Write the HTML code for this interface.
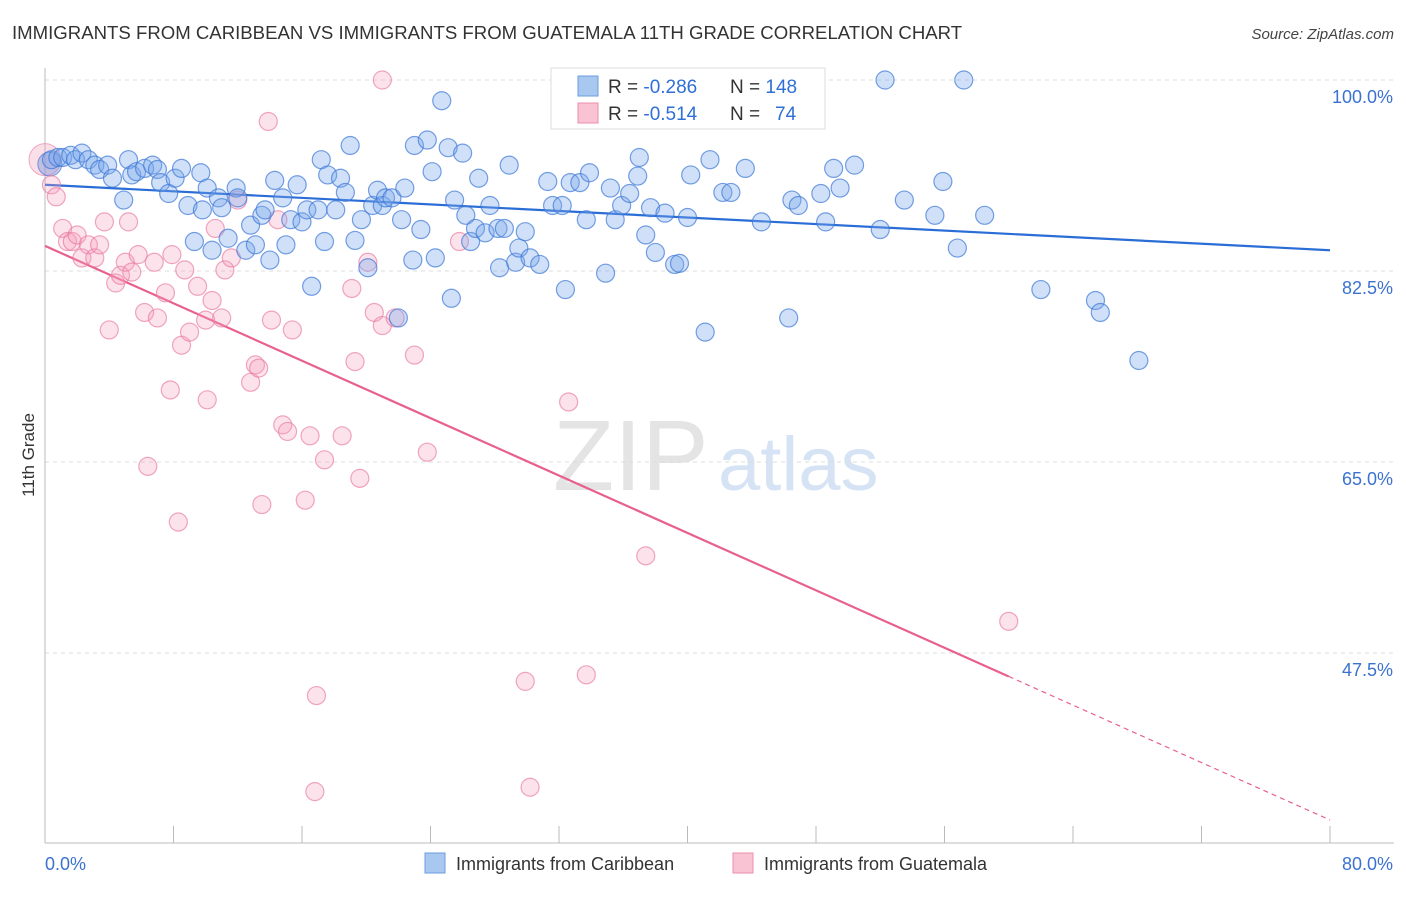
<!DOCTYPE html>
<html><head><meta charset="utf-8"><style>
body{margin:0;background:#fff;font-family:"Liberation Sans",sans-serif;}
svg text{font-family:"Liberation Sans",sans-serif;}
</style></head><body>
<svg id="chart" width="1406" height="892" xmlns="http://www.w3.org/2000/svg">
<text x="12" y="39" font-size="18.6" fill="#333">IMMIGRANTS FROM CARIBBEAN VS IMMIGRANTS FROM GUATEMALA 11TH GRADE CORRELATION CHART</text>
<text x="1394" y="39" font-size="15" fill="#444" text-anchor="end" font-style="italic">Source: ZipAtlas.com</text>
<g>
<text x="553" y="490" font-size="100" fill="#e4e4e4" font-family="Liberation Serif, serif">ZIP</text>
<text x="718" y="490" font-size="76" fill="#d5e3f5">atlas</text>
</g>
<g id="grid"></g>
<g id="axes"></g>
<g id="trends"></g>
<g id="pts"></g>
<text transform="translate(34,455) rotate(-90)" font-size="17" fill="#333" text-anchor="middle">11th Grade</text>
<g>
<rect x="551" y="68" width="274" height="61" fill="#fff" stroke="#ddd"/>
<rect x="578" y="76" width="20" height="20" fill="#a9c8f0" stroke="#6a9de0"/>
<rect x="578" y="103" width="20" height="20" fill="#f9c3d3" stroke="#ec8fae"/>
<text x="608" y="93" font-size="19" fill="#333">R = <tspan fill="#2f6fd6">-0.286</tspan></text>
<text x="730" y="93" font-size="19" fill="#333">N = <tspan fill="#2f6fd6">148</tspan></text>
<text x="608" y="120" font-size="19" fill="#333">R = <tspan fill="#2f6fd6"> -0.514</tspan></text>
<text x="730" y="120" font-size="19" fill="#333">N = </text>
<text x="775" y="120" font-size="19" fill="#2f6fd6">74</text>
</g>
<g>
<rect x="425" y="853" width="20" height="20" fill="#a9c8f0" stroke="#6a9de0"/>
<text x="456" y="870" font-size="18" fill="#333">Immigrants from Caribbean</text>
<rect x="733" y="853" width="20" height="20" fill="#f9c3d3" stroke="#ec8fae"/>
<text x="764" y="870" font-size="18" fill="#333">Immigrants from Guatemala</text>
</g>
</svg>
<script>
const yTicks=[100,82.5,65,47.5];
const yTickLabels=["100.0%","82.5%","65.0%","47.5%"];
const xTickLabels=["0.0%","80.0%"];
const blueX=[0.4,0.8,1.1,1.6,1.9,2.3,2.7,3.1,3.4,3.9,4.2,4.9,5.2,5.4,5.7,6.2,6.7,7.0,7.2,7.7,8.1,8.5,8.9,9.3,9.7,9.8,10.1,10.4,10.8,11.0,11.4,11.9,12.0,12.5,12.8,13.1,13.5,13.7,14.0,14.3,14.8,15.0,15.3,15.7,16.0,16.3,16.6,17.0,17.2,17.4,17.6,18.1,18.4,18.7,19.0,19.3,19.7,20.1,20.4,20.7,21.0,21.2,21.6,22.0,22.2,22.4,22.9,23.0,23.4,23.8,24.1,24.3,24.7,25.1,25.3,25.5,26.0,26.2,26.5,26.8,27.0,27.4,27.7,28.2,28.3,28.6,28.9,29.3,29.5,29.9,30.2,30.8,31.3,31.6,32.2,32.4,32.7,33.3,33.7,33.9,34.9,35.2,35.5,35.9,36.4,36.9,37.0,37.4,37.7,38.0,38.6,39.2,39.5,40.0,40.2,40.7,41.1,41.4,42.2,42.7,43.6,44.6,46.3,46.5,46.9,48.3,48.6,49.1,49.5,50.4,52.0,52.3,53.5,55.4,55.9,56.8,57.2,58.5,62.0,65.4,65.7,68.1];
const blueY=[92.7,92.9,92.9,93.1,92.7,93.3,92.7,92.2,91.8,92.2,91.0,89.0,92.7,91.3,91.6,91.9,92.2,91.8,90.6,89.6,91.0,91.9,88.5,85.2,91.5,88.1,90.1,84.4,89.2,88.3,85.5,90.1,89.2,84.4,86.7,84.9,87.6,88.1,83.5,90.8,89.2,84.9,87.2,90.4,87.0,88.1,81.1,88.1,92.7,85.2,91.3,88.1,91.0,89.7,94.0,85.3,87.2,82.8,88.5,89.9,88.5,89.2,89.2,78.2,87.2,90.1,83.5,94.0,86.3,94.5,91.6,83.7,98.1,93.8,80.0,89.0,93.3,87.6,85.2,86.4,91.0,86.0,88.5,86.4,82.8,86.4,92.2,83.3,84.6,86.1,83.7,83.1,90.7,88.5,88.5,80.8,90.6,90.6,87.2,91.5,82.3,90.1,87.2,88.5,89.6,91.2,92.9,85.8,88.3,84.2,87.8,83.1,83.2,87.4,91.3,96.8,76.9,92.7,89.7,89.7,91.9,87.0,78.2,89.0,88.5,89.6,87.0,91.9,90.1,92.2,86.3,100.0,89.0,87.6,90.7,84.6,100.0,87.6,80.8,79.8,78.7,74.3];
const pinkX=[0.4,0.7,1.1,1.4,1.7,2.0,2.3,2.7,3.1,3.4,3.7,4.0,4.4,4.7,5.0,5.2,5.4,5.8,6.2,6.4,6.8,7.0,7.5,7.8,7.9,8.3,8.5,8.7,9.0,9.5,10.0,10.1,10.4,10.6,11.0,11.2,11.6,12.0,12.8,13.1,13.3,13.5,13.9,14.1,14.5,14.8,15.1,15.4,16.2,16.5,16.9,16.8,17.4,18.5,19.1,19.3,19.6,20.1,20.5,21.0,21.0,21.8,23.0,23.8,25.8,29.9,30.2,32.6,33.7,36.6,37.4,60.0];
const pinkY=[90.4,89.3,86.4,85.2,85.2,85.8,83.7,84.9,83.7,84.9,87.0,77.1,81.4,82.1,83.3,87.0,82.4,84.0,78.7,64.6,83.3,78.2,80.5,71.6,84.0,59.5,75.7,82.6,76.9,81.1,78.0,70.7,79.8,86.4,78.2,82.6,83.7,89.0,72.3,73.9,73.6,61.1,96.2,78.0,87.2,68.4,67.8,77.1,61.5,67.4,43.6,34.8,65.2,67.4,80.9,74.2,63.5,83.3,78.7,100.0,77.5,78.2,74.8,65.9,85.2,44.9,35.2,70.5,45.5,97.4,56.4,50.4];
const blueTrend=[90.4,84.4];
const pinkTrend=[84.8,32.2];
const pinkSolidEnd=60;
const NS="http://www.w3.org/2000/svg";
const X0=45,X1=1330,Y100=80,PX_PER=191/17.5;
function sx(v){return X0+(X1-X0)*v/80;}
function sy(v){return Y100+(100-v)*PX_PER;}
function mk(tag,attrs,parent){const e=document.createElementNS(NS,tag);for(const k in attrs)e.setAttribute(k,attrs[k]);parent.appendChild(e);return e;}
const grid=document.getElementById('grid'),axes=document.getElementById('axes'),trends=document.getElementById('trends'),pts=document.getElementById('pts');
yTicks.forEach((t,i)=>{
 const l=mk('line',{x1:45,x2:1394,y1:sy(t),y2:sy(t),stroke:'#dcdcdc','stroke-dasharray':'4,4'},grid);
 
 
 const tx=mk('text',{x:1393,y:sy(t)+23,'font-size':18,fill:'#3b72d0','text-anchor':'end'},axes);
 tx.textContent=yTickLabels[i];
 
 
});
const ya=mk('line',{x1:45,x2:45,y1:68,y2:843,stroke:'#bbb'},axes);


const xa=mk('line',{x1:45,x2:1394,y1:843,y2:843,stroke:'#bbb'},axes);


for(let i=0;i<=10;i++){
 const t=mk('line',{x1:sx(i*8),x2:sx(i*8),y1:826,y2:843,stroke:'#bbb'},axes);
 
 
}
const xl0=mk('text',{x:45,y:870,'font-size':18,fill:'#3b72d0'},axes);xl0.textContent=xTickLabels[0];


const xl1=mk('text',{x:1393,y:870,'font-size':18,fill:'#3b72d0','text-anchor':'end'},axes);xl1.textContent=xTickLabels[1];


const bc=mk('circle',{cx:sx(0),cy:sy(92.7),r:16,fill:'rgba(240,150,180,0.3)',stroke:'rgba(230,120,160,0.6)'},pts);


const bb=mk('circle',{cx:sx(0.3),cy:sy(92.3),r:12,fill:'rgba(110,140,220,0.4)',stroke:'rgba(70,120,210,0.7)'},pts);


pinkX.forEach((x,i)=>{
 const c=mk('circle',{cx:sx(x),cy:sy(pinkY[i]),r:9,fill:'rgba(245,160,190,0.3)',stroke:'rgba(232,120,160,0.65)','stroke-width':1.2},pts);
 
 
});
blueX.forEach((x,i)=>{
 const c=mk('circle',{cx:sx(x),cy:sy(blueY[i]),r:9,fill:'rgba(120,165,235,0.35)',stroke:'rgba(60,120,215,0.7)','stroke-width':1.2},pts);
 
 
});
const bl=mk('line',{x1:sx(0),y1:sy(blueTrend[0]),x2:sx(80),y2:sy(blueTrend[1]),stroke:'#2a6dd6','stroke-width':2.2},trends);


const pm=pinkTrend[0]+(pinkTrend[1]-pinkTrend[0])*pinkSolidEnd/80;
const pl=mk('line',{x1:sx(0),y1:sy(pinkTrend[0]),x2:sx(pinkSolidEnd),y2:sy(pm),stroke:'#e8608e','stroke-width':2.2},trends);


const pd=mk('line',{x1:sx(pinkSolidEnd),y1:sy(pm),x2:sx(80),y2:sy(pinkTrend[1]),stroke:'#e8608e','stroke-width':1.2,'stroke-dasharray':'5,4'},trends);


</script>
</body></html>
